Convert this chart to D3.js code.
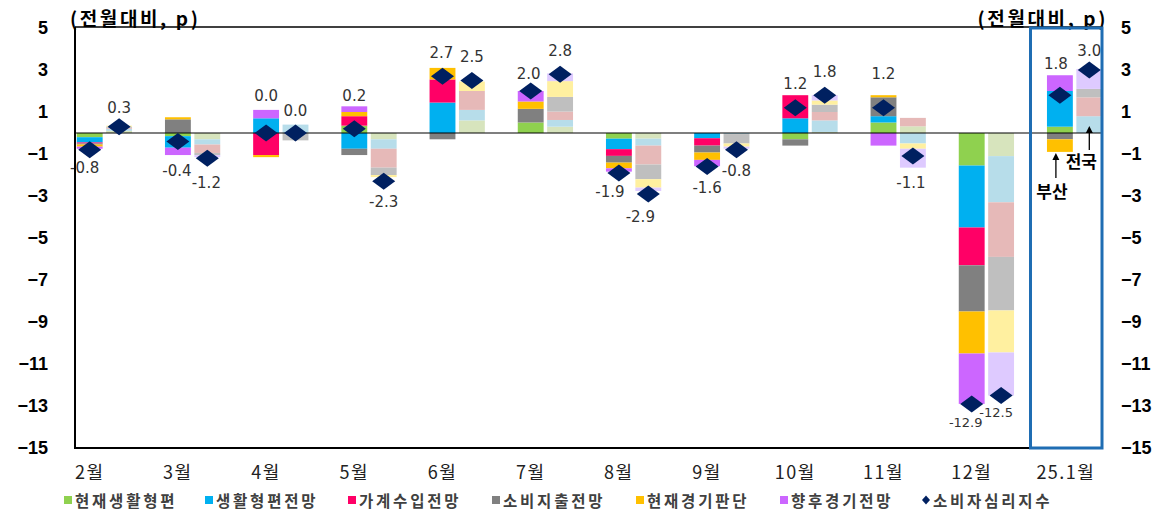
<!DOCTYPE html>
<html><head><meta charset="utf-8">
<script src="https://cdn.jsdelivr.net/npm/d3@7"></script>
<style>
html,body{margin:0;padding:0;background:#fff;}
svg{display:block;}
</style></head>
<body>
<svg id="chart" width="1170" height="513"></svg>
<script>
// ---------- DATA ----------
const months = ["2월","3월","4월","5월","6월","7월","8월","9월","10월","11월","12월","25.1월"];
const seriesNames = ["현재생활형편","생활형편전망","가계수입전망","소비지출전망","현재경기판단","향후경기전망"];
const indexName = "소비자심리지수";
const yTicks = [5,3,1,-1,-3,-5,-7,-9,-11,-13,-15];

// 부산 (Busan) contributions
const busanCurLiving   = [-0.2, -0.15,  0.0,  0.35, 0.0,  0.5, -0.27,  0.0,  -0.3, 0.5, -1.55, 0.3];
const busanLivingOut   = [-0.25,-0.55,  0.7, -0.75, 1.45, 0.0, -0.5,  -0.25,  0.7, 0.3, -2.95, 1.7];
const busanIncomeOut   = [-0.05, 0.0,  -1.05, 0.45, 1.1,  0.0, -0.32, -0.35,  1.1, 0.0, -1.8,  0.0];
const busanSpendOut    = [-0.05, 0.65,  0.0, -0.3, -0.3,  0.65,-0.32, -0.33, -0.3, 0.9, -2.2, -0.3];
const busanCurEcon     = [-0.1,  0.1,  -0.1,  0.2,  0.55, 0.35,-0.27, -0.35,  0.0, 0.1, -2.0, -0.6];
const busanEconOut     = [-0.1, -0.35,  0.4,  0.27, 0.0,  0.5, -0.16, -0.3,   0.0,-0.6, -2.4,  0.75];
const busanIndex       = [-0.8, -0.4, 0.0, 0.2, 2.7, 2.0, -1.9, -1.6, 1.2, 1.2, -12.9, 1.8];

// 전국 (National) contributions
const natCurLiving     = [0.1, -0.3,  0.0, -0.3,  0.6, 0.3, -0.27, 0.0,  0.05, 0.32, -1.1,  0.0];
const natLivingOut     = [0.1, -0.25, 0.4, -0.45, 0.5, 0.32,-0.33,-0.05, 0.55,-0.5,  -2.2,  0.8];
const natIncomeOut     = [0.05,-0.4,  0.0, -0.9,  0.9, 0.4, -0.9,  0.0,  0.4,  0.4,  -2.6,  0.9];
const natSpendOut      = [0.05,-0.1, -0.35,-0.35, 0.0, 0.7, -0.7, -0.45, 0.35, 0.0,  -2.55, 0.4];
const natCurEcon       = [0.05, 0.0,  0.0, -0.1,  0.45,0.75,-0.4, -0.15, 0.2, -0.25, -2.0,  0.0];
const natEconOut       = [0.0, -0.1,  0.0,  0.0,  0.0, 0.37,-0.16,-0.1,  0.25,-0.9,  -2.05, 0.95];
const natIndex         = [0.3, -1.2, 0.0, -2.3, 2.5, 2.8, -2.9, -0.8, 1.8, -1.1, -12.5, 3.0];

// ---------- STYLE / LAYOUT ----------
const strongColors = ["#8FD14F","#00B0F0","#FF0066","#808080","#FFC000","#CC66FF"];
const paleColors   = ["#D7E4BD","#B7DDEA","#E6B9B8","#BFBFBF","#FFF0A0","#DECAFF"];
const diamondColor = "#002060";

// label placement offsets (px, relative to diamond) for the value labels
const busanLabelOff = [[-5,18],[-1,30],[0,-37],[0,-33],[-1,-23],[-2,-17],[-9,19],[0,21],[0,-24],[0,-34],[-6,19],[-4,-31]];
const natLabelOff   = [[0,-19],[-1,25],[0,-22],[0,21],[0,-24],[0,-23],[-8,23],[0,21],[0,-23],[-2,27],[-5,17],[0,-19]];

const svg = d3.select("#chart");
const L = 75, R = 1103, T = 27, B = 448;

const slots = d3.range(35);
const x = d3.scaleBand().domain(slots).range([L, R + 1]).paddingInner(0.12).paddingOuter(0.06);
const y = d3.scaleLinear().domain([-15, 5]).range([B, T + 1]);

const busanSeries = [busanCurLiving,busanLivingOut,busanIncomeOut,busanSpendOut,busanCurEcon,busanEconOut];
const natSeries = [natCurLiving,natLivingOut,natIncomeOut,natSpendOut,natCurEcon,natEconOut];

function rows(series){
  return months.map((m,i)=>{
    const r = {month:m, i:i};
    seriesNames.forEach((s,j)=> r[s] = series[j][i]);
    return r;
  });
}
const stack = d3.stack().keys(seriesNames).offset(d3.stackOffsetDiverging);
const groups = [
  {rows: rows(busanSeries), colors: strongColors, slotOf: i=>3*i,   idx: busanIndex, off: busanLabelOff},
  {rows: rows(natSeries),   colors: paleColors,   slotOf: i=>3*i+1, idx: natIndex,   off: natLabelOff}
];

// bars
groups.forEach(g=>{
  const st = stack(g.rows);
  st.forEach((layer,j)=>{
    svg.append("g").selectAll("rect").data(layer).join("rect")
      .attr("x", d=>x(g.slotOf(d.data.i)))
      .attr("width", x.bandwidth())
      .attr("y", d=>y(Math.max(d[0],d[1])))
      .attr("height", d=>Math.abs(y(d[0])-y(d[1])))
      .attr("fill", g.colors[j]);
  });
});

// zero line
svg.append("line").attr("x1",L).attr("x2",R).attr("y1",y(0)).attr("y2",y(0))
  .attr("stroke","#000").attr("stroke-width",1.2);

// diamonds
const dw = 11.5, dh = 8.5;
groups.forEach(g=>{
  svg.append("g").selectAll("path").data(g.idx).join("path")
    .attr("d",(v,i)=>{
      const cx = x(g.slotOf(i)) + x.bandwidth()/2, cy = y(v);
      return `M${cx},${cy-dh}L${cx+dw},${cy}L${cx},${cy+dh}L${cx-dw},${cy}Z`;
    })
    .attr("fill", diamondColor);
});

// value labels
groups.forEach(g=>{
  svg.append("g").selectAll("text").data(g.idx).join("text")
    .attr("x",(v,i)=>x(g.slotOf(i)) + x.bandwidth()/2 + g.off[i][0])
    .attr("y",(v,i)=>y(v) + g.off[i][1])
    .attr("text-anchor","middle").attr("dominant-baseline","central")
    .attr("font-family","'DejaVu Sans', Verdana, sans-serif")
    .attr("font-size",(v,i)=> i===10 ? 13 : 15)
    .attr("fill","#333")
    .text(v=>v.toFixed(1));
});

// frame
svg.append("path")
  .attr("d",`M${L},${T}V${B}H${R}`)
  .attr("fill","none").attr("stroke","#000").attr("stroke-width",2);
svg.append("line").attr("x1",L).attr("x2",R).attr("y1",T).attr("y2",T)
  .attr("stroke","#000").attr("stroke-width",1.5);

// y axes (left & right)
const fmt = v => (v<0 ? "\u2212"+Math.abs(v) : String(v));
svg.append("g").selectAll("text").data(yTicks).join("text")
  .attr("x",48).attr("y",v=>y(v)).attr("text-anchor","end").attr("dominant-baseline","central")
  .attr("font-family","'Liberation Sans', Arial, sans-serif").attr("font-weight","bold")
  .attr("font-size",18).attr("fill","#000").text(fmt);
svg.append("g").selectAll("text").data(yTicks).join("text")
  .attr("x",1121).attr("y",v=>y(v)).attr("text-anchor","start").attr("dominant-baseline","central")
  .attr("font-family","'Liberation Sans', Arial, sans-serif").attr("font-weight","bold")
  .attr("font-size",18).attr("fill","#000").text(fmt);

// unit titles
svg.append("text").attr("x",70).attr("y",17).attr("dominant-baseline","central")
  .attr("font-family","'Noto Sans CJK KR', sans-serif").attr("font-weight","bold")
  .attr("font-size",19).attr("letter-spacing",2.6).attr("fill","#000").text("(전월대비, p)");
svg.append("text").attr("x",1108).attr("y",17).attr("dominant-baseline","central").attr("text-anchor","end")
  .attr("font-family","'Noto Sans CJK KR', sans-serif").attr("font-weight","bold")
  .attr("font-size",19).attr("letter-spacing",2.6).attr("fill","#000").text("(전월대비, p)");

// x labels
svg.append("g").selectAll("text").data(months).join("text")
  .attr("x",(m,i)=>x(3*i) + x.bandwidth()/2 + (i===11 ? 6 : 0))
  .attr("y",471).attr("text-anchor","middle").attr("dominant-baseline","central")
  .attr("font-family","'Noto Sans CJK KR', sans-serif").attr("font-size",18).attr("letter-spacing",1.5).attr("fill","#222")
  .text(m=>m);

// annotation arrows 부산 / 전국
const ann = svg.append("g");
const bx = x(33) + x.bandwidth()/2 - 4, nx = x(34) + x.bandwidth()/2;
ann.append("line").attr("x1",bx).attr("x2",bx).attr("y1",178).attr("y2",158).attr("stroke","#000").attr("stroke-width",1.3);
ann.append("path").attr("d",`M${bx},${153}L${bx-3.5},${160}L${bx+3.5},${160}Z`).attr("fill","#000");
ann.append("text").attr("x",bx-4).attr("y",190).attr("text-anchor","middle").attr("dominant-baseline","central")
  .attr("font-family","'Noto Sans CJK KR', sans-serif").attr("font-weight","bold").attr("font-size",17).text("부산");
ann.append("line").attr("x1",nx).attr("x2",nx).attr("y1",150).attr("y2",131).attr("stroke","#000").attr("stroke-width",1.3);
ann.append("path").attr("d",`M${nx},${126}L${nx-3.5},${133}L${nx+3.5},${133}Z`).attr("fill","#000");
ann.append("text").attr("x",nx-8).attr("y",160).attr("text-anchor","middle").attr("dominant-baseline","central")
  .attr("font-family","'Noto Sans CJK KR', sans-serif").attr("font-weight","bold").attr("font-size",17).text("전국");

// highlight box
const boxL = x(32) + x.bandwidth()/2;
svg.append("rect").attr("x",boxL).attr("y",T+1).attr("width",R-boxL-1).attr("height",B-T-1)
  .attr("fill","none").attr("stroke","#1F6DB3").attr("stroke-width",3);

// legend
const legendItems = seriesNames.map((s,j)=>({name:s, color:strongColors[j], type:"sq"}))
  .concat([{name:indexName, color:diamondColor, type:"dia"}]);
const legendX = [64, 205, 348, 492, 636, 780, 922];
const lg = svg.append("g").selectAll("g").data(legendItems).join("g")
  .attr("transform",(d,i)=>`translate(${legendX[i]},500)`);
lg.filter(d=>d.type==="sq").append("rect").attr("x",0).attr("y",-4).attr("width",8).attr("height",8).attr("fill",d=>d.color);
lg.filter(d=>d.type==="dia").append("path").attr("d","M4,-4.5L8,0L4,4.5L0,0Z").attr("fill",d=>d.color);
lg.append("text").attr("x",11).attr("y",0).attr("dominant-baseline","central")
  .attr("font-family","'Noto Sans CJK KR', sans-serif").attr("font-weight","bold").attr("font-size",15.5)
  .attr("letter-spacing",2.8).attr("fill","#404040").text(d=>d.name);
</script>
</body></html>
